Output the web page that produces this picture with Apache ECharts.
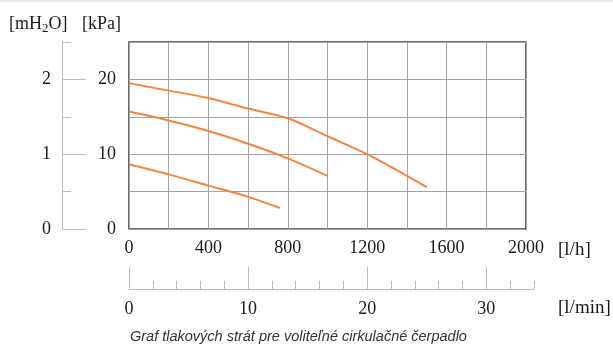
<!DOCTYPE html>
<html>
<head>
<meta charset="utf-8">
<script src="https://cdn.jsdelivr.net/npm/echarts@6/dist/echarts.min.js"></script>
<style>
html,body{margin:0;padding:0;background:#fff;}
#c{width:613px;height:347px;}
</style>
</head>
<body>
<div id="c"></div>
<script>
// Data (flow in l/h, pressure loss in kPa)
const flowTop = [0, 200, 400, 600, 800, 1000, 1200, 1400, 1500];
const lossTop = [19.5, 18.5, 17.5, 16.1, 14.8, 12.4, 10.0, 7.1, 5.6];
const flowMid = [0, 200, 400, 600, 800, 1000];
const lossMid = [15.7, 14.5, 13.1, 11.4, 9.45, 7.1];
const flowLow = [0, 200, 400, 600, 760];
const lossLow = [8.65, 7.3, 5.8, 4.3, 2.8];

const xLabelsLh = [0, 400, 800, 1200, 1600, 2000];
const yLabelsKpa = [0, 10, 20];
const yLabelsM = [0, 1, 2];
const xLabelsLmin = [0, 10, 20, 30];

const caption = 'Graf tlakových strát pre voliteľné cirkulačné čerpadlo';

const serif = '"Liberation Serif", "DejaVu Serif", serif';
const orange = '#f4843c';
const txt = '#1a1a1a';

const pairs = (xs, ys) => xs.map((x, i) => [x, ys[i]]);

const chart = echarts.init(document.getElementById('c'), null, {renderer: 'canvas'});

const hiddenX = (g) => ({type: 'value', gridIndex: g, show: false, min: 0, max: 1});
const hiddenY = (g) => ({type: 'value', gridIndex: g, show: false, min: 0, max: 1});

const lminScale = 397 / (2000 / 60);

chart.setOption({
  animation: false,
  grid: [
    {left: 129, top: 42, width: 397, height: 187, show: true, borderColor: '#3a3a3a', borderWidth: 1.5, backgroundColor: 'transparent'},
    {left: 62, top: 42, width: 1, height: 187},
    {left: 62, top: 42 + 187 * 0.2, width: 1, height: 187 * 0.8},
    {left: 129, top: 280, width: 34 * lminScale, height: 9},
    {left: 129, top: 280, width: 30 * lminScale, height: 9}
  ],
  xAxis: [
    {type: 'value', gridIndex: 0, min: 0, max: 2000, interval: 200,
     axisLine: {show: false}, axisTick: {show: false},
     splitLine: {show: true, lineStyle: {color: '#a3a3a3', width: 1}},
     axisLabel: {margin: 10, color: txt, fontFamily: serif, fontSize: 18,
       formatter: v => xLabelsLh.includes(v) ? String(v) : ''}},
    hiddenX(1),
    hiddenX(2),
    {type: 'value', gridIndex: 3, min: 0, max: 34, interval: 2,
     axisLine: {show: true, lineStyle: {color: '#bdbdbd', width: 1}},
     axisTick: {show: true, inside: true, length: 8, lineStyle: {color: '#bdbdbd'}},
     axisLabel: {show: false}, splitLine: {show: false}},
    {type: 'value', gridIndex: 4, min: 0, max: 30, interval: 10,
     axisLine: {show: false},
     axisTick: {show: true, inside: true, length: 22, lineStyle: {color: '#bdbdbd'}},
     axisLabel: {margin: 11, color: txt, fontFamily: serif, fontSize: 18,
       formatter: v => xLabelsLmin.includes(v) ? String(v) : ''},
     splitLine: {show: false}}
  ],
  yAxis: [
    {type: 'value', gridIndex: 0, min: 0, max: 25, interval: 5,
     axisLine: {show: false}, axisTick: {show: false},
     splitLine: {show: true, lineStyle: {color: '#a3a3a3', width: 1}},
     axisLabel: {margin: 13, color: txt, fontFamily: serif, fontSize: 18,
       formatter: v => yLabelsKpa.includes(v) ? String(v) : ''}},
    {type: 'value', gridIndex: 1, min: 0, max: 2.5, interval: 0.5,
     axisLine: {show: true, lineStyle: {color: '#bdbdbd', width: 1}},
     axisTick: {show: true, inside: true, length: 9, lineStyle: {color: '#bdbdbd'}},
     axisLabel: {show: false}, splitLine: {show: false}},
    {type: 'value', gridIndex: 2, min: 0, max: 2, interval: 1,
     axisLine: {show: false},
     axisTick: {show: true, inside: true, length: 24, lineStyle: {color: '#bdbdbd'}},
     axisLabel: {margin: 11, color: txt, fontFamily: serif, fontSize: 18,
       formatter: v => yLabelsM.includes(v) ? String(v) : ''},
     splitLine: {show: false}},
    hiddenY(3),
    hiddenY(4)
  ],
  series: [
    {type: 'line', xAxisIndex: 0, yAxisIndex: 0, data: pairs(flowTop, lossTop), smooth: 0.3, showSymbol: false, lineStyle: {color: orange, width: 2}},
    {type: 'line', xAxisIndex: 0, yAxisIndex: 0, data: pairs(flowMid, lossMid), smooth: 0.3, showSymbol: false, lineStyle: {color: orange, width: 2}},
    {type: 'line', xAxisIndex: 0, yAxisIndex: 0, data: pairs(flowLow, lossLow), smooth: 0.3, showSymbol: false, lineStyle: {color: orange, width: 2}}
  ],
  graphic: [
    {type: 'rect', left: 0, top: 0, shape: {width: 613, height: 2}, style: {fill: '#ececec'}},
    {type: 'text', left: 9, top: 15, style: {
      text: '[mH{s|2}O]', fill: txt, font: '18px ' + serif,
      rich: {s: {fontSize: 13, fontFamily: serif, fill: txt, padding: [9, 0, 0, 0]}}}},
    {type: 'text', left: 82, top: 15, style: {text: '[kPa]', fill: txt, font: '18px ' + serif}},
    {type: 'text', left: 558, top: 241, style: {text: '[l/h]', fill: txt, font: '19px ' + serif}},
    {type: 'text', left: 558, top: 299, style: {text: '[l/min]', fill: txt, font: '19px ' + serif}},
    {type: 'text', left: 130, top: 329, style: {text: caption, fill: '#333', font: 'italic 14.5px "Liberation Sans", Arial, sans-serif'}}
  ]
});
</script>
</body>
</html>
